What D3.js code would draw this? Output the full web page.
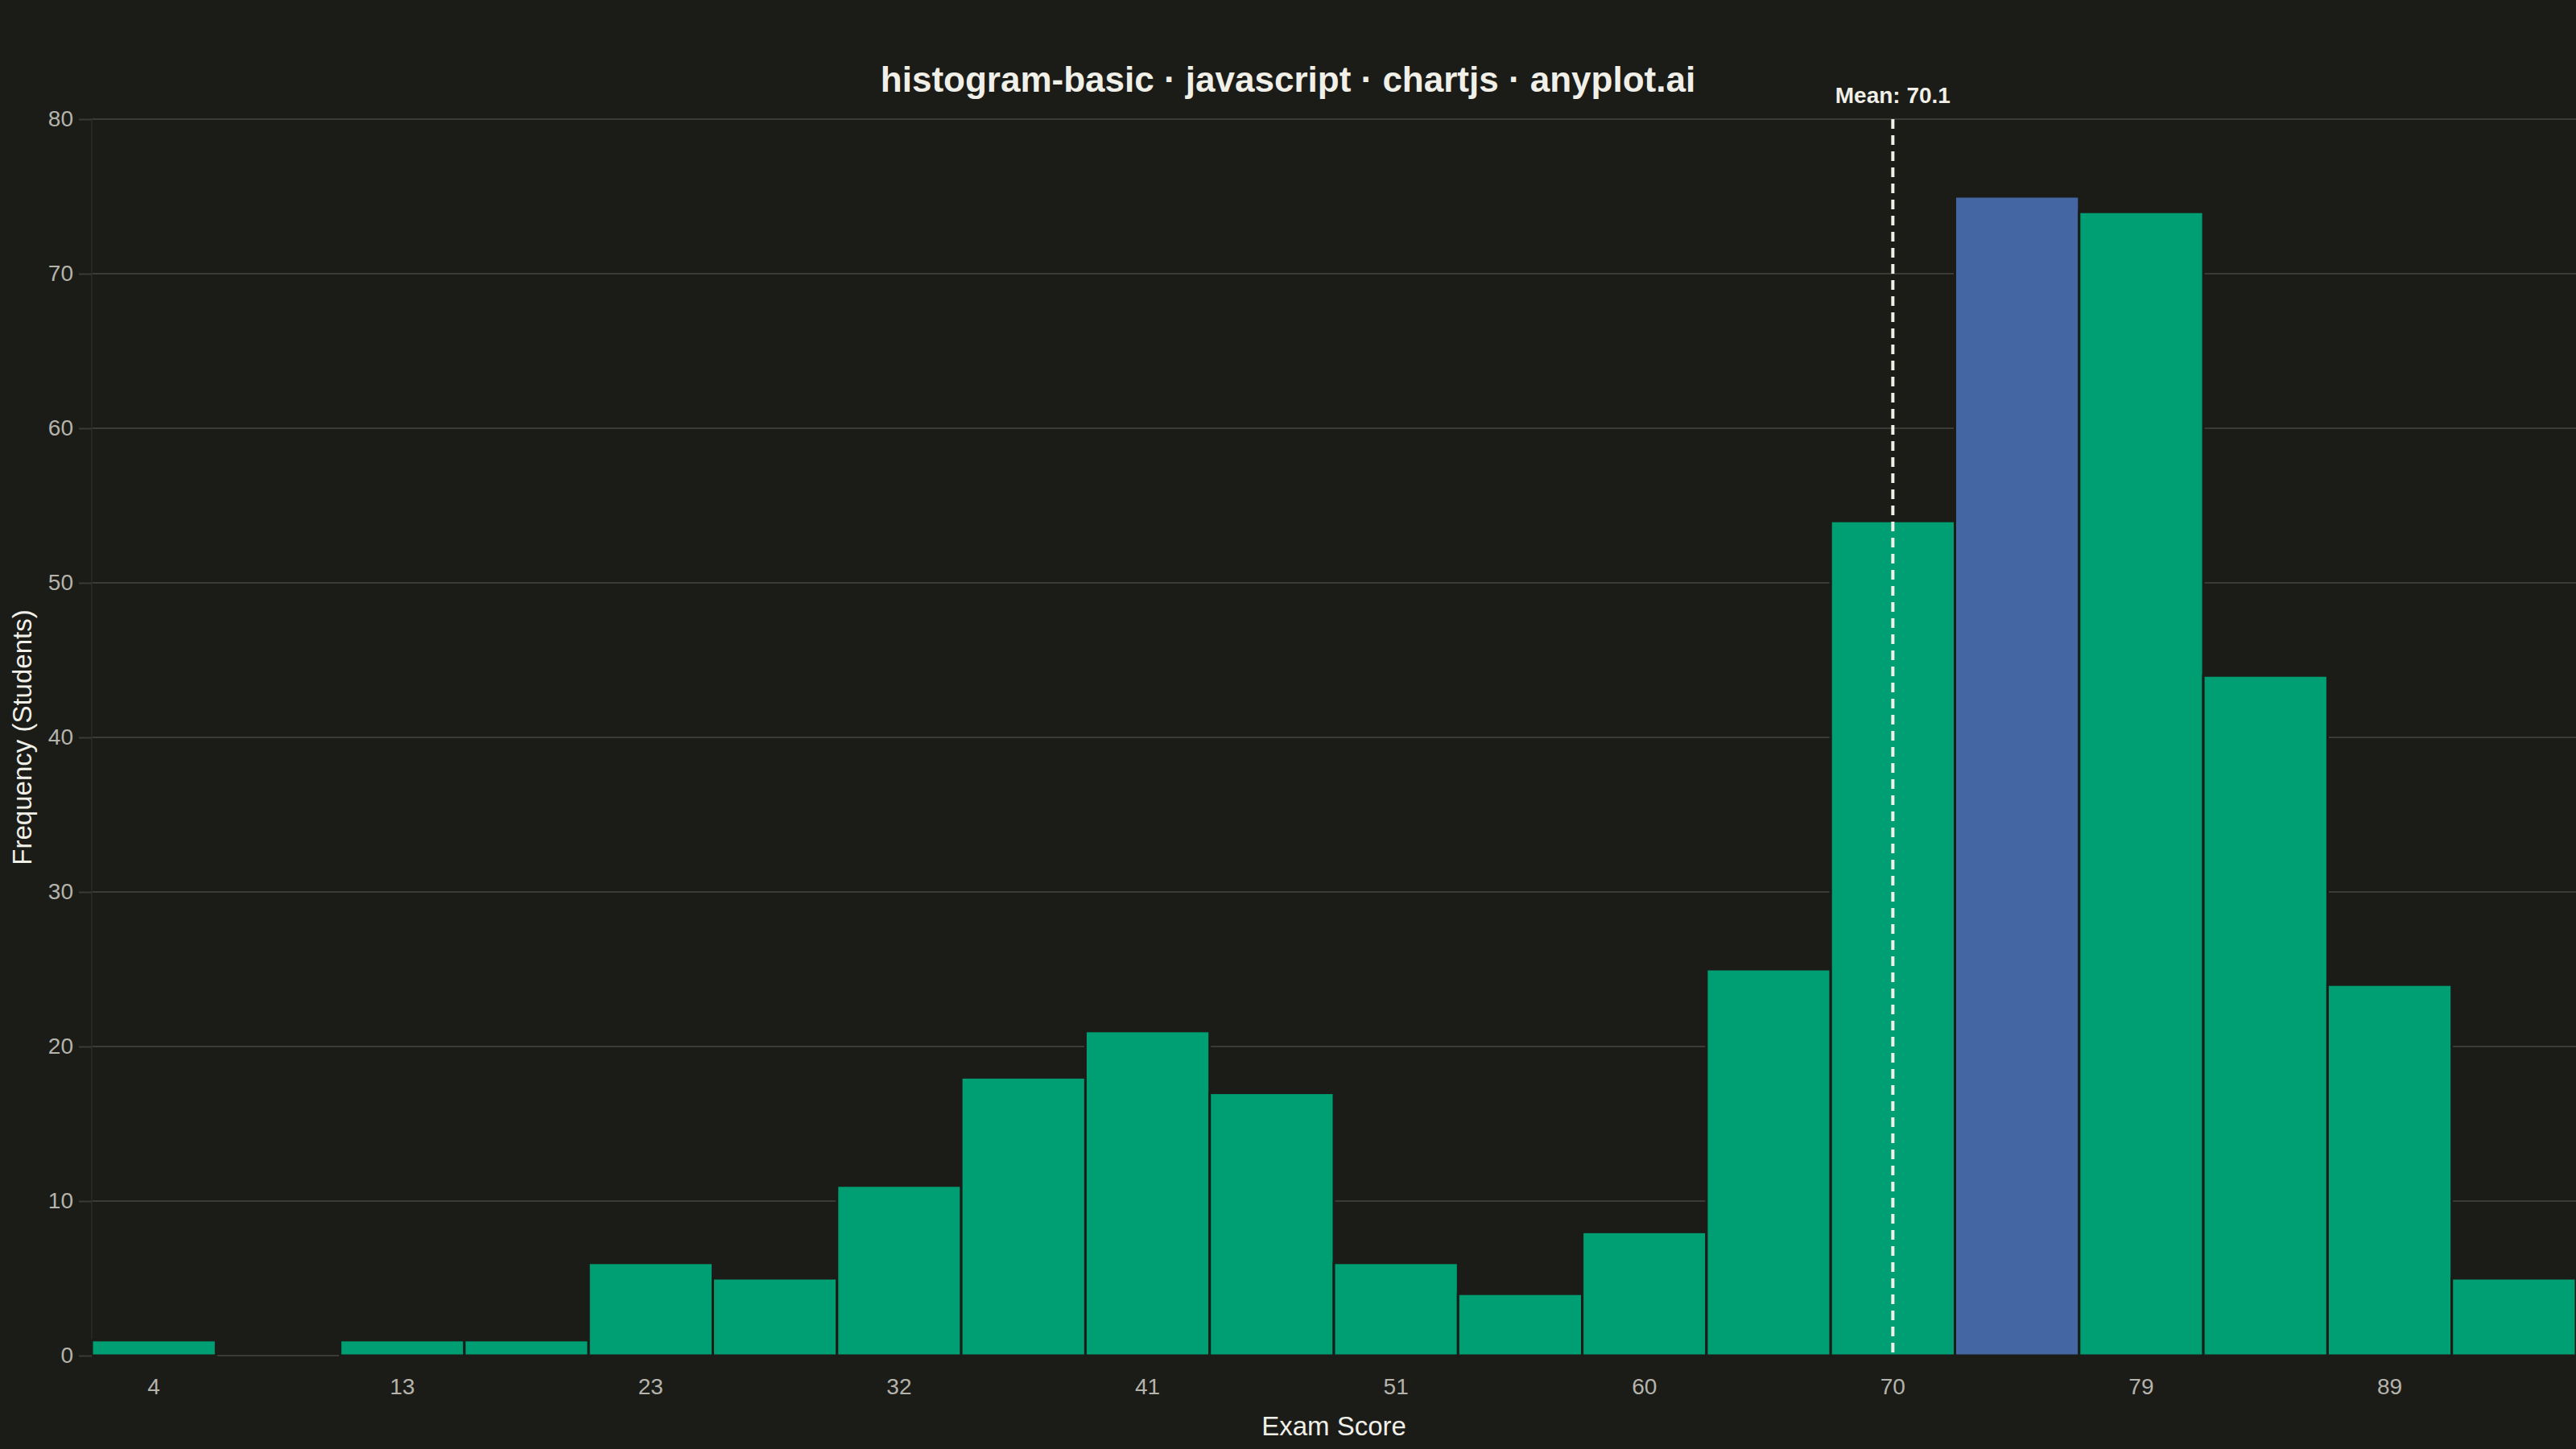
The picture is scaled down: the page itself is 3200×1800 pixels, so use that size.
<!DOCTYPE html>
<html>
<head>
<meta charset="utf-8">
<script src="https://cdn.jsdelivr.net/npm/d3@7"></script>
<style>
  html, body { margin: 0; padding: 0; background: #1B1B17; }
  svg { display: block; font-family: "Liberation Sans", Arial, Helvetica, sans-serif; }
</style>
</head>
<body>
<div id="chart-container"></div>
<script>
// Bin labels (lower score of each bin) and frequency per bin
const binLabels = ["4", "8", "13", "18", "23", "27", "32", "37", "41", "46",
                   "51", "55", "60", "65", "70", "74", "79", "84", "89", "93"];
const frequencies = [1, 0, 1, 1, 6, 5, 11, 18, 21, 17,
                     6, 4, 8, 25, 54, 75, 74, 44, 24, 5];
const yTicks = [0, 10, 20, 30, 40, 50, 60, 70, 80];
const meanScore = 70.1;
const meanBin = "70";

const W = 3200, H = 1800;
const margin = { top: 148, right: 0, bottom: 116, left: 114 };
const width = W - margin.left - margin.right;
const height = H - margin.top - margin.bottom;

const bg = "#1B1B17";
const green = "#009E73";
const blue = "#4467A3";
const gridColor = "#3A3A36";
const tickColor = "#B5B4AC";
const textColor = "#F0EFE8";

const svg = d3.select("#chart-container")
  .append("svg")
    .attr("width", W)
    .attr("height", H);

svg.append("rect")
  .attr("width", W)
  .attr("height", H)
  .attr("fill", bg);

const g = svg.append("g")
  .attr("transform", `translate(${margin.left},${margin.top})`);

// Scales
const xScale = d3.scaleBand()
  .domain(binLabels)
  .range([0, width])
  .padding(0);

const yScale = d3.scaleLinear()
  .domain([0, 80])
  .range([height, 0]);

// Horizontal grid
g.append("g")
  .selectAll("line")
  .data(yTicks)
  .join("line")
    .attr("x1", 0)
    .attr("x2", width)
    .attr("y1", d => yScale(d))
    .attr("y2", d => yScale(d))
    .attr("stroke", gridColor)
    .attr("stroke-width", 2);

// Faint left border
g.append("line")
  .attr("x1", 0).attr("x2", 0)
  .attr("y1", 0).attr("y2", height)
  .attr("stroke", "#262622")
  .attr("stroke-width", 2);

// Bars
const maxFreq = d3.max(frequencies);
g.append("g")
  .selectAll("rect")
  .data(frequencies)
  .join("rect")
    .attr("x", (d, i) => xScale(binLabels[i]))
    .attr("y", d => yScale(d))
    .attr("width", xScale.bandwidth())
    .attr("height", d => height - yScale(d))
    .attr("fill", d => d === maxFreq ? blue : green)
    .attr("stroke", bg)
    .attr("stroke-width", 3);

// Y axis
const yAxis = g.append("g")
  .call(d3.axisLeft(yScale).tickValues(yTicks).tickSize(16).tickPadding(7));
yAxis.select(".domain").remove();
yAxis.selectAll(".tick line").attr("stroke", gridColor).attr("stroke-width", 2);
yAxis.selectAll(".tick text")
  .attr("fill", tickColor)
  .attr("font-size", 28)
  .attr("font-family", "Liberation Sans, Arial, sans-serif");

// X axis (every other bin labelled)
const xAxis = g.append("g")
  .attr("transform", `translate(0,${height})`)
  .call(d3.axisBottom(xScale)
    .tickValues(binLabels.filter((d, i) => i % 2 === 0))
    .tickSize(0)
    .tickPadding(28));
xAxis.select(".domain").remove();
xAxis.selectAll(".tick text")
  .attr("fill", tickColor)
  .attr("font-size", 28)
  .attr("font-family", "Liberation Sans, Arial, sans-serif");

// Mean line
const meanX = xScale(meanBin) + xScale.bandwidth() / 2;
g.append("line")
  .attr("x1", meanX).attr("x2", meanX)
  .attr("y1", 0).attr("y2", height)
  .attr("stroke", textColor)
  .attr("stroke-width", 4)
  .attr("stroke-dasharray", "12,8");

g.append("text")
  .attr("x", meanX)
  .attr("y", -20)
  .attr("text-anchor", "middle")
  .attr("fill", textColor)
  .attr("font-size", 28)
  .attr("font-weight", "bold")
  .text(`Mean: ${meanScore.toFixed(1)}`);

// Title
svg.append("text")
  .attr("x", 1600)
  .attr("y", 114)
  .attr("text-anchor", "middle")
  .attr("fill", textColor)
  .attr("font-size", 44)
  .attr("font-weight", "bold")
  .text("histogram-basic · javascript · chartjs · anyplot.ai");

// Axis titles
svg.append("text")
  .attr("x", margin.left + width / 2)
  .attr("y", 1783)
  .attr("text-anchor", "middle")
  .attr("fill", textColor)
  .attr("font-size", 33)
  .text("Exam Score");

svg.append("text")
  .attr("transform", `translate(39,${margin.top + height / 2}) rotate(-90)`)
  .attr("text-anchor", "middle")
  .attr("fill", textColor)
  .attr("font-size", 33)
  .text("Frequency (Students)");
</script>
</body>
</html>
